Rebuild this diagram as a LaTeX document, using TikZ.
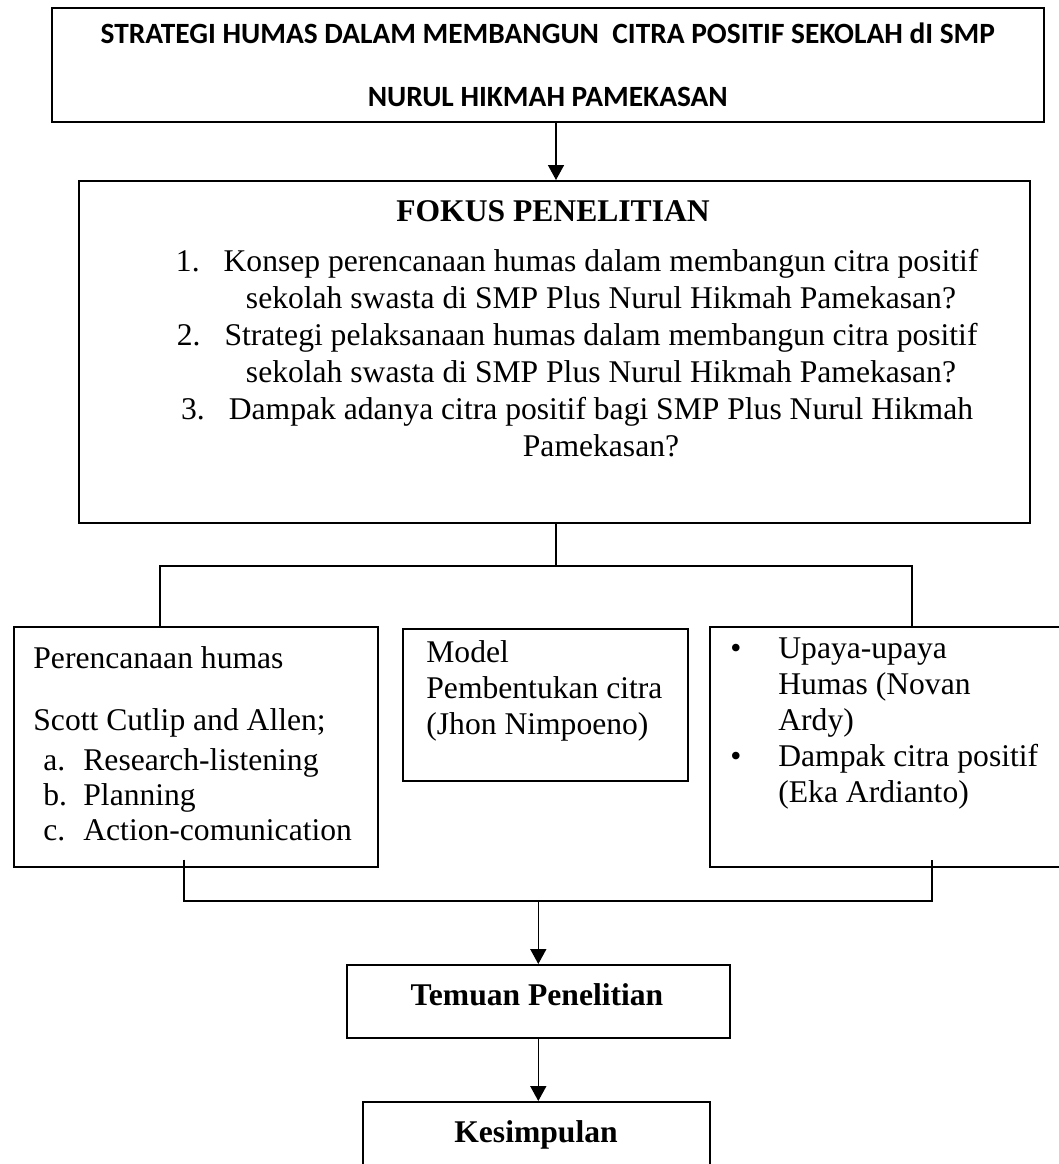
\documentclass[tikz,border=0pt]{standalone}
\usepackage{fontspec}
\setmainfont{Liberation Serif}
\newfontfamily\judulfont{Carlito}
\usetikzlibrary{arrows.meta}

\begin{document}
\begin{tikzpicture}[x=0.5pt,y=-0.5pt,
    kotak/.style={draw, line width=0.8pt, inner sep=0pt, anchor=north west},
    teks/.style={inner sep=0pt, font=\fontsize{15.8}{18}\selectfont},
    garis/.style={line width=0.8pt},
    panah/.style={line width=0.8pt, -{Triangle[length=7.5pt,width=8pt]}}]
  \useasboundingbox (0,0) rectangle (1059,1164);
  %draw the boxes
  \node[kotak, minimum width=496pt, minimum height=57pt] (judul) at (51,7) {};
  \node[kotak, minimum width=475.5pt, minimum height=171pt] (fokus) at (78,180) {};
  \node[kotak, minimum width=182pt, minimum height=120pt] (kiri) at (13,626) {};
  \node[kotak, minimum width=142.5pt, minimum height=76pt] (tengah) at (402,628) {};
  \node[kotak, minimum width=177.5pt, minimum height=120pt] (kanan) at (709,626) {};
  \node[kotak, minimum width=191.5pt, minimum height=36.5pt] (temuan) at (346,964) {};
  \node[kotak, minimum width=173.5pt, minimum height=40pt] (simpulan) at (362,1101) {};

  %texts of the title box and the focus box
  \node[teks, font=\judulfont\bfseries\fontsize{14.7}{31.5}\selectfont, align=center] (judulteks) at (judul.center)
    {STRATEGI HUMAS DALAM MEMBANGUN\ \ CITRA POSITIF SEKOLAH dI SMP\\NURUL HIKMAH PAMEKASAN};
  \node[teks, anchor=base, font=\bfseries\fontsize{15.8}{18}\selectfont] (fokusjudul) at (553,221) {FOKUS PENELITIAN};
  \foreach \y/\baris in {
      271/{\llap{1.\hspace{12pt}}Konsep perencanaan humas dalam membangun citra positif},
      308/{sekolah swasta di SMP Plus Nurul Hikmah Pamekasan?},
      345/{\llap{2.\hspace{12pt}}Strategi pelaksanaan humas dalam membangun citra positif},
      382/{sekolah swasta di SMP Plus Nurul Hikmah Pamekasan?},
      419/{\llap{3.\hspace{12pt}}Dampak adanya citra positif bagi SMP Plus Nurul Hikmah},
      456/{Pamekasan?}}
    \node[teks, anchor=base] (fokus-\y) at (601,\y) {\baris};

  %texts of the three theory boxes
  \node[teks, anchor=base west] (kiri1) at (33,668) {Perencanaan humas};
  \node[teks, anchor=base west] (kiri2) at (33,730) {Scott Cutlip and Allen;};
  \foreach \y/\huruf/\baris in {770/a./Research-listening, 805/b./Planning, 840/c./Action-comunication}{
    \node[teks, anchor=base west] (huruf-\y) at (43,\y) {\huruf};
    \node[teks, anchor=base west] (kiri-\y) at (83,\y) {\baris};
  }
  \node[teks, anchor=base west] (tengah1) at (426,662) {Model};
  \node[teks, anchor=base west] (tengah2) at (426,698) {Pembentukan citra};
  \node[teks, anchor=base west] (tengah3) at (426,734) {(Jhon Nimpoeno)};
  \node[teks, anchor=base] (titik1) at (736,658) {•};
  \node[teks, anchor=base] (titik2) at (736,766) {•};
  \foreach \y/\baris in {658/Upaya-upaya, 694/Humas (Novan, 730/Ardy), 766/Dampak citra positif, 802/(Eka Ardianto)}
    \node[teks, anchor=base west] (kanan-\y) at (778,\y) {\baris};

  \node[teks, anchor=base, font=\bfseries\fontsize{15.8}{18}\selectfont] (temuanteks) at (537,1005) {Temuan Penelitian};
  \node[teks, anchor=base, font=\bfseries\fontsize{15.8}{18}\selectfont] (simpulanteks) at (536,1142) {Kesimpulan};

  %connectors
  \coordinate (sumbu) at (556,0);
  \coordinate (cabangkiri) at (160,566);
  \coordinate (cabangkanan) at (912,566);
  \coordinate (gabungkiri) at (184,901);
  \coordinate (gabungkanan) at (932,901);
  \draw[panah] (judul.south -| sumbu) -- (fokus.north -| sumbu);
  \draw[garis] (fokus.south -| sumbu) -- (cabangkiri -| sumbu);
  \draw[garis] (kiri.north -| cabangkiri) -- (cabangkiri) -- (cabangkanan) -- (kanan.north -| cabangkanan);
  \draw[garis] ([yshift=4pt]kiri.south -| gabungkiri) -- (gabungkiri) -- (gabungkanan) -- ([yshift=4pt]kanan.south -| gabungkanan);
  \draw[panah] (gabungkiri -| temuan.north) -- (temuan.north);
  \draw[panah] (temuan.south) -- (temuan.south |- simpulan.north);
\end{tikzpicture}
\end{document}
